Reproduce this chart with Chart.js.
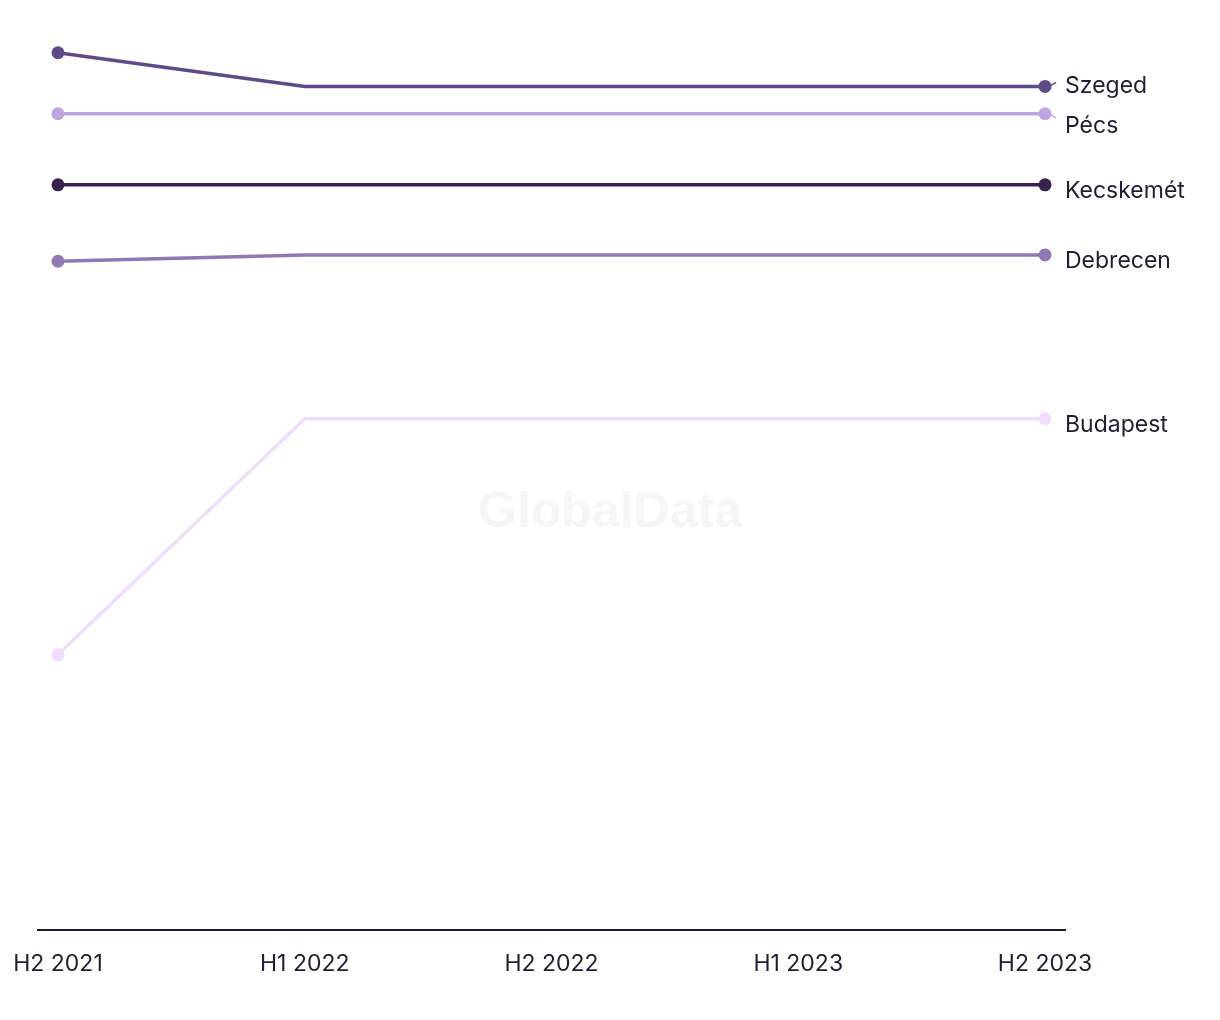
<!DOCTYPE html>
<html>
<head>
<meta charset="utf-8">
<script src="https://cdn.jsdelivr.net/npm/chart.js@4.4.1/dist/chart.umd.min.js"></script>
<style>
  html, body { margin: 0; padding: 0; background: #fff; }
  #wrap { width: 1220px; height: 1020px; }
</style>
</head>
<body>
<div id="wrap"><canvas id="mycanvas"></canvas></div>
<script>
var periods = ["H2 2021", "H1 2022", "H2 2022", "H1 2023", "H2 2023"];

var szeged     = [96.4, 92.7, 92.7, 92.7, 92.7];
var pecs       = [89.7, 89.7, 89.7, 89.7, 89.7];
var kecskemet  = [81.9, 81.9, 81.9, 81.9, 81.9];
var debrecen   = [73.5, 74.2, 74.2, 74.2, 74.2];
var budapest   = [30.3, 56.2, 56.2, 56.2, 56.2];

var cities = ["Szeged", "Pécs", "Kecskemét", "Debrecen", "Budapest"];
var colors = ["#5e4a86", "#bea5e0", "#35224f", "#8f78b3", "#f0dcfb"];
var series = [szeged, pecs, kecskemet, debrecen, budapest];

function toXY(arr) {
  var out = [];
  for (var i = 0; i < arr.length; i++) out.push({x: i, y: arr[i]});
  return out;
}

var datasets = [];
for (var i = 0; i < series.length; i++) {
  datasets.push({
    label: cities[i],
    data: toXY(series[i]),
    borderColor: colors[i],
    backgroundColor: colors[i],
    borderWidth: 3.5,
    pointRadius: [6.5, 0, 0, 0, 6.5],
    pointHoverRadius: 6.5,
    pointBorderWidth: 0,
    tension: 0
  });
}

var textFont = "Inter, 'Noto Sans', sans-serif";

// right-hand labels with simple overlap spreading
var endLabels = {
  id: "endLabels",
  afterDatasetsDraw: function(chart) {
    var ctx = chart.ctx;
    var items = [];
    chart.data.datasets.forEach(function(ds, i) {
      var meta = chart.getDatasetMeta(i);
      var pt = meta.data[meta.data.length - 1];
      items.push({text: ds.label, px: pt.x, py: pt.y, y: pt.y + 6, color: ds.borderColor});
    });
    items.sort(function(a, b) { return a.y - b.y; });
    var gap = 40;
    for (var k = 0; k < 20; k++) {
      for (var j = 0; j < items.length - 1; j++) {
        var d = items[j + 1].y - items[j].y;
        if (d < gap) {
          var shift = (gap - d) / 2;
          items[j].y -= shift;
          items[j + 1].y += shift;
        }
      }
    }
    ctx.save();
    ctx.font = "23px " + textFont;
    ctx.textBaseline = "middle";
    ctx.textAlign = "left";
    items.forEach(function(it) {
      if (Math.abs(it.y - (it.py + 6)) > 2) {
        var dir = it.y > it.py + 6 ? 1 : -1;
        ctx.strokeStyle = it.color;
        ctx.lineWidth = 1.5;
        ctx.beginPath();
        ctx.moveTo(it.px + 6, it.py + dir * 1);
        ctx.lineTo(it.px + 11, it.py + dir * 4);
        ctx.stroke();
      }
      ctx.fillStyle = "#1f1f33";
      ctx.fillText(it.text, it.px + 20, it.y);
    });
    ctx.restore();
  }
};

var watermark = {
  id: "watermark",
  beforeDatasetsDraw: function(chart) {
    var ctx = chart.ctx;
    ctx.save();
    ctx.font = "bold 50px 'Liberation Sans', Arial, sans-serif";
    ctx.fillStyle = "#f6f6f6";
    ctx.textAlign = "center";
    ctx.textBaseline = "middle";
    ctx.fillText("GlobalData", chart.width / 2, 513);
    ctx.restore();
  }
};

var ctx = document.getElementById("mycanvas");

var LineGraph = new Chart(ctx, {
  type: "line",
  data: { datasets: datasets },
  plugins: [watermark, endLabels],
  options: {
    responsive: true,
    maintainAspectRatio: false,
    animation: false,
    layout: { padding: { left: 38, right: 155, top: 20, bottom: 22 } },
    plugins: {
      legend: { display: false },
      tooltip: { enabled: false }
    },
    scales: {
      x: {
        type: "linear",
        min: -0.081,
        max: 4.081,
        afterFit: function(scale) { scale.paddingLeft = 0; scale.paddingRight = 0; },
        grid: { display: false, drawTicks: false },
        border: { display: true, color: "#1a1a2e", width: 2 },
        ticks: {
          stepSize: 1,
          includeBounds: false,
          autoSkip: false,
          maxRotation: 0,
          padding: 20,
          color: "#1f1f33",
          font: { family: textFont, size: 23 },
          callback: function(v) { return Number.isInteger(v) ? periods[v] : ""; }
        }
      },
      y: {
        display: false,
        min: 0,
        max: 100
      }
    }
  }
});
</script>
</body>
</html>
